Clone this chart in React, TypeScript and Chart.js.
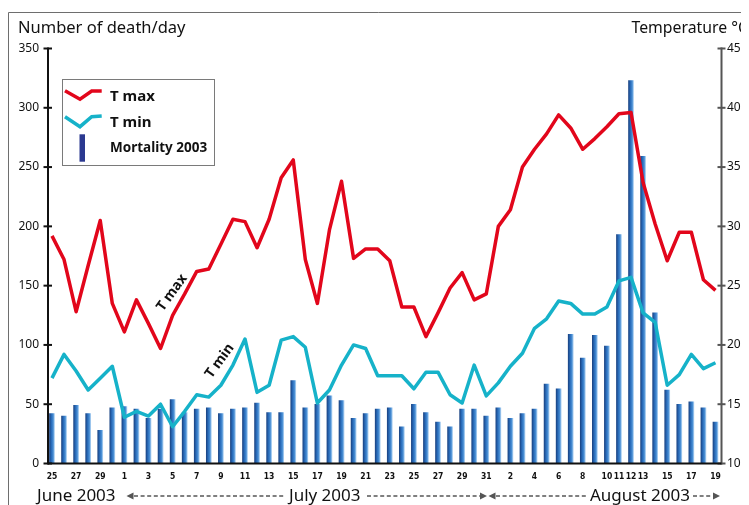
import React, { useEffect, useRef } from 'react';
import { Chart, registerables } from 'chart.js';

Chart.register(...registerables);

// ---- data (25 June 2003 -> 19 August 2003, one entry per day) ----
const dayNumbers = [
  25, 26, 27, 28, 29, 30,
  1, 2, 3, 4, 5, 6, 7, 8, 9, 10, 11, 12, 13, 14, 15, 16, 17, 18, 19, 20, 21, 22, 23, 24, 25, 26, 27, 28, 29, 30, 31,
  1, 2, 3, 4, 5, 6, 7, 8, 9, 10, 11, 12, 13, 14, 15, 16, 17, 18, 19,
];

const xTickLabels = [
  '25', '', '27', '', '29', '',
  '1', '', '3', '', '5', '', '7', '', '9', '', '11', '', '13', '', '15', '', '17', '', '19', '', '21', '', '23', '', '25', '', '27', '', '29', '', '31',
  '', '2', '', '4', '', '6', '', '8', '', '10', '11', '12', '13', '', '15', '', '17', '', '19',
];

const deaths = [
  42, 40, 49, 42, 28, 47,
  48, 46, 38, 46, 54, 43, 46, 47, 42, 46, 47, 51, 43, 43, 70, 47, 50, 57, 53, 38, 42, 46, 47, 31, 50, 43, 35, 31, 46, 46, 40,
  47, 38, 42, 46, 67, 63, 109, 89, 108, 99, 193, 323, 259, 127, 62, 50, 52, 47, 35,
];

const tMax = [
  29.2, 27.2, 22.8, 26.7, 30.5, 23.5,
  21.1, 23.8, 21.8, 19.7, 22.5, 24.3, 26.2, 26.4, 28.5, 30.6, 30.4, 28.2, 30.6, 34.1, 35.6, 27.2, 23.5, 29.7, 33.8, 27.3, 28.1, 28.1, 27.1, 23.2, 23.2, 20.7, 22.7, 24.8, 26.1, 23.8, 24.3,
  30.0, 31.4, 35.0, 36.5, 37.8, 39.4, 38.3, 36.5, 37.4, 38.4, 39.5, 39.6, 33.7, 30.2, 27.1, 29.5, 29.5, 25.5, 24.6,
];

const tMin = [
  17.2, 19.2, 17.8, 16.2, 17.2, 18.2,
  13.9, 14.4, 14.0, 15.0, 13.1, 14.4, 15.8, 15.6, 16.6, 18.3, 20.5, 16.0, 16.6, 20.4, 20.7, 19.8, 15.1, 16.2, 18.3, 20.0, 19.7, 17.4, 17.4, 17.4, 16.3, 17.7, 17.7, 15.8, 15.1, 18.3, 15.7,
  16.8, 18.2, 19.3, 21.4, 22.2, 23.7, 23.5, 22.6, 22.6, 23.2, 25.4, 25.7, 22.7, 21.9, 16.6, 17.5, 19.2, 18.0, 18.5,
];

const seriesNames = ['T max', 'T min', 'Mortality 2003'];
const leftTitle = 'Number of death/day';
const rightTitle = 'Temperature °C';
const monthNames = ['June 2003', 'July 2003', 'August 2003'];

// ---- styles ----
const W = 741;
const H = 497;
const RED = '#e2061b';
const CYAN = '#16b2c9';
const NAVY = '#2b3990';
const BAR = '#2a6ab4';
const FONT = "'Noto Sans', 'Open Sans', sans-serif";
const NARROW = "'DejaVu Sans Condensed', 'Liberation Sans Narrow', sans-serif";

function seg(ctx: CanvasRenderingContext2D, x1: number, y1: number, x2: number, y2: number) {
  ctx.beginPath();
  ctx.moveTo(x1, y1);
  ctx.lineTo(x2, y2);
  ctx.stroke();
}

function poly(ctx: CanvasRenderingContext2D, pts: number[][]) {
  ctx.beginPath();
  pts.forEach((p, i) => (i === 0 ? ctx.moveTo(p[0], p[1]) : ctx.lineTo(p[0], p[1])));
  ctx.stroke();
}

function arrow(ctx: CanvasRenderingContext2D, tipX: number, y: number, dir: number) {
  ctx.beginPath();
  ctx.moveTo(tipX, y);
  ctx.lineTo(tipX - dir * 7, y - 3.5);
  ctx.lineTo(tipX - dir * 7, y + 3.5);
  ctx.closePath();
  ctx.fill();
}

const decorPlugin = {
  id: 'decor',
  afterDatasetsDraw(chart: any) {
    const { ctx, chartArea: a, scales } = chart;
    ctx.save();
    // outer frame (top + left)
    ctx.strokeStyle = '#6e6e6e';
    ctx.lineWidth = 1;
    poly(ctx, [[0.5, H], [0.5, 4.5], [W, 4.5]]);

    // left axis
    ctx.strokeStyle = '#111';
    ctx.lineWidth = 2;
    seg(ctx, a.left, a.top - 1, a.left, a.bottom + 1);
    scales.y.ticks.forEach((t: any) => {
      const y = scales.y.getPixelForValue(t.value);
      seg(ctx, a.left - 4.5, y, a.left + 4, y);
    });
    // right axis
    ctx.strokeStyle = '#555';
    seg(ctx, a.right, a.top - 1, a.right, a.bottom + 1);
    scales.y1.ticks.forEach((t: any) => {
      const y = scales.y1.getPixelForValue(t.value);
      seg(ctx, a.right - 4, y, a.right + 4, y);
    });
    // x axis
    ctx.strokeStyle = '#111';
    seg(ctx, a.left, a.bottom, a.right, a.bottom);
    ctx.restore();
  },
  afterDraw(chart: any) {
    const { ctx, scales } = chart;
    ctx.save();
    ctx.fillStyle = '#111';
    ctx.textBaseline = 'alphabetic';
    // axis titles
    ctx.textAlign = 'left';
    ctx.font = `16.5px ${FONT}`;
    ctx.fillText(leftTitle, 10, 24.5);
    ctx.font = `15.8px ${FONT}`;
    ctx.fillText(rightTitle, 623.5, 24.5);

    // legend box
    ctx.strokeStyle = '#7a7a7a';
    ctx.lineWidth = 1;
    ctx.strokeRect(54.5, 71.5, 152, 86);
    ctx.lineWidth = 3.5;
    ctx.lineJoin = 'miter';
    ctx.strokeStyle = RED;
    poly(ctx, [[57, 82.7], [72, 91.3], [83.7, 83], [93.7, 83]]);
    ctx.strokeStyle = CYAN;
    poly(ctx, [[57, 108.7], [72, 118.7], [83.7, 108.7], [93.7, 108]]);
    ctx.fillStyle = NAVY;
    ctx.fillRect(71.5, 126.3, 5.5, 27.4);
    ctx.fillStyle = '#111';
    ctx.font = `bold 15px ${FONT}`;
    ctx.fillText(seriesNames[0], 102, 92.7);
    ctx.fillText(seriesNames[1], 102, 119.3);
    ctx.font = `bold 13.5px ${FONT}`;
    ctx.fillText(seriesNames[2], 102, 144.3);

    // rotated line labels, anchored on data coordinates
    const rot = (-54 * Math.PI) / 180;
    ctx.font = `bold 14px ${FONT}`;
    ctx.textAlign = 'center';
    ctx.textBaseline = 'middle';
    [[seriesNames[0], 9.95, 24.4], [seriesNames[1], 13.9, 18.65]].forEach(([txt, xi, tv]: any) => {
      const px = scales.x.getPixelForValue(xi);
      const py = scales.y1.getPixelForValue(tv);
      ctx.save();
      ctx.translate(px, py);
      ctx.rotate(rot);
      ctx.fillText(txt, 0, 0);
      ctx.restore();
    });

    // month captions with dashed arrows
    ctx.textAlign = 'left';
    ctx.textBaseline = 'alphabetic';
    ctx.font = `17px ${FONT}`;
    ctx.fillStyle = '#111';
    ctx.fillText(monthNames[0], 29, 492.7);
    ctx.fillText(monthNames[1], 281, 492.7);
    ctx.fillText(monthNames[2], 582, 492.7);
    const ay = 488;
    ctx.strokeStyle = '#555';
    ctx.fillStyle = '#555';
    ctx.lineWidth = 1.3;
    ctx.setLineDash([4, 2.6]);
    seg(ctx, 126, ay, 277, ay);
    seg(ctx, 359, ay, 472, ay);
    seg(ctx, 488, ay, 579, ay);
    seg(ctx, 685, ay, 704, ay);
    ctx.setLineDash([]);
    arrow(ctx, 118.5, ay, -1);
    arrow(ctx, 479, ay, 1);
    arrow(ctx, 480.5, ay, -1);
    arrow(ctx, 712, ay, 1);
    ctx.restore();
  },
};

export default function App() {
  const ref = useRef<HTMLCanvasElement | null>(null);

  useEffect(() => {
    if (!ref.current) return;
    const barColor = (c: any) => {
      const xs = c.chart.scales && c.chart.scales.x;
      if (!xs || c.type !== 'data') return BAR;
      const px = xs.getPixelForValue(c.dataIndex);
      if (!Number.isFinite(px)) return BAR;
      const g = c.chart.ctx.createLinearGradient(px - 2.5, 0, px + 2.5, 0);
      g.addColorStop(0, '#1b4585');
      g.addColorStop(0.4, '#2a6dbb');
      g.addColorStop(0.75, '#4a8fd4');
      g.addColorStop(1, '#a8cdf0');
      return g;
    };

    const chart = new Chart(ref.current, {
      type: 'bar',
      data: {
        datasets: [
          {
            type: 'line',
            label: seriesNames[0],
            data: tMax.map((v, i) => ({ x: i, y: v })),
            yAxisID: 'y1',
            borderColor: RED,
            borderWidth: 3.5,
            pointRadius: 0,
            tension: 0,
            borderJoinStyle: 'round',
            order: 0,
          },
          {
            type: 'line',
            label: seriesNames[1],
            data: tMin.map((v, i) => ({ x: i, y: v })),
            yAxisID: 'y1',
            borderColor: CYAN,
            borderWidth: 3.5,
            pointRadius: 0,
            tension: 0,
            borderJoinStyle: 'round',
            order: 1,
          },
          {
            type: 'bar',
            label: seriesNames[2],
            data: deaths.map((v, i) => ({ x: i, y: v })),
            yAxisID: 'y',
            barThickness: 5,
            backgroundColor: barColor,
            order: 2,
          },
        ],
      } as any,
      options: {
        responsive: false,
        animation: false,
        events: [],
        layout: { padding: { top: 40.5, left: 0, right: 0, bottom: 0 } },
        plugins: { legend: { display: false }, tooltip: { enabled: false } },
        scales: {
          x: {
            type: 'linear',
            min: -0.33,
            max: 55.5,
            offset: false,
            grid: { display: false, drawTicks: false },
            border: { display: false },
            ticks: {
              stepSize: 1,
              autoSkip: false,
              maxTicksLimit: 200,
              includeBounds: false,
              maxRotation: 0,
              minRotation: 0,
              padding: 8.5,
              color: '#111',
              font: { family: NARROW, size: 8.5, weight: 'bold' },
              callback: (v: any) => xTickLabels[v] ?? '',
            },
            afterFit: (s: any) => {
              s.height = 41.5;
            },
          },
          y: {
            position: 'left',
            min: 0,
            max: 350,
            grid: { display: false, drawTicks: false },
            border: { display: false },
            ticks: { stepSize: 50, padding: 9, color: '#111', font: { family: FONT, size: 12 } },
            afterFit: (s: any) => {
              s.width = 40;
            },
          },
          y1: {
            position: 'right',
            min: 10,
            max: 45,
            grid: { display: false, drawTicks: false },
            border: { display: false },
            ticks: { stepSize: 5, padding: 5.5, color: '#111', font: { family: FONT, size: 12 } },
            afterFit: (s: any) => {
              s.width = 27.5;
            },
          },
        },
      } as any,
      plugins: [decorPlugin],
    });
    return () => chart.destroy();
  }, []);

  return (
    <div style={{ width: W, height: H, position: 'relative' }}>
      <canvas ref={ref} width={W} height={H} style={{ display: 'block' }} data-days={dayNumbers.length} />
    </div>
  );
}
